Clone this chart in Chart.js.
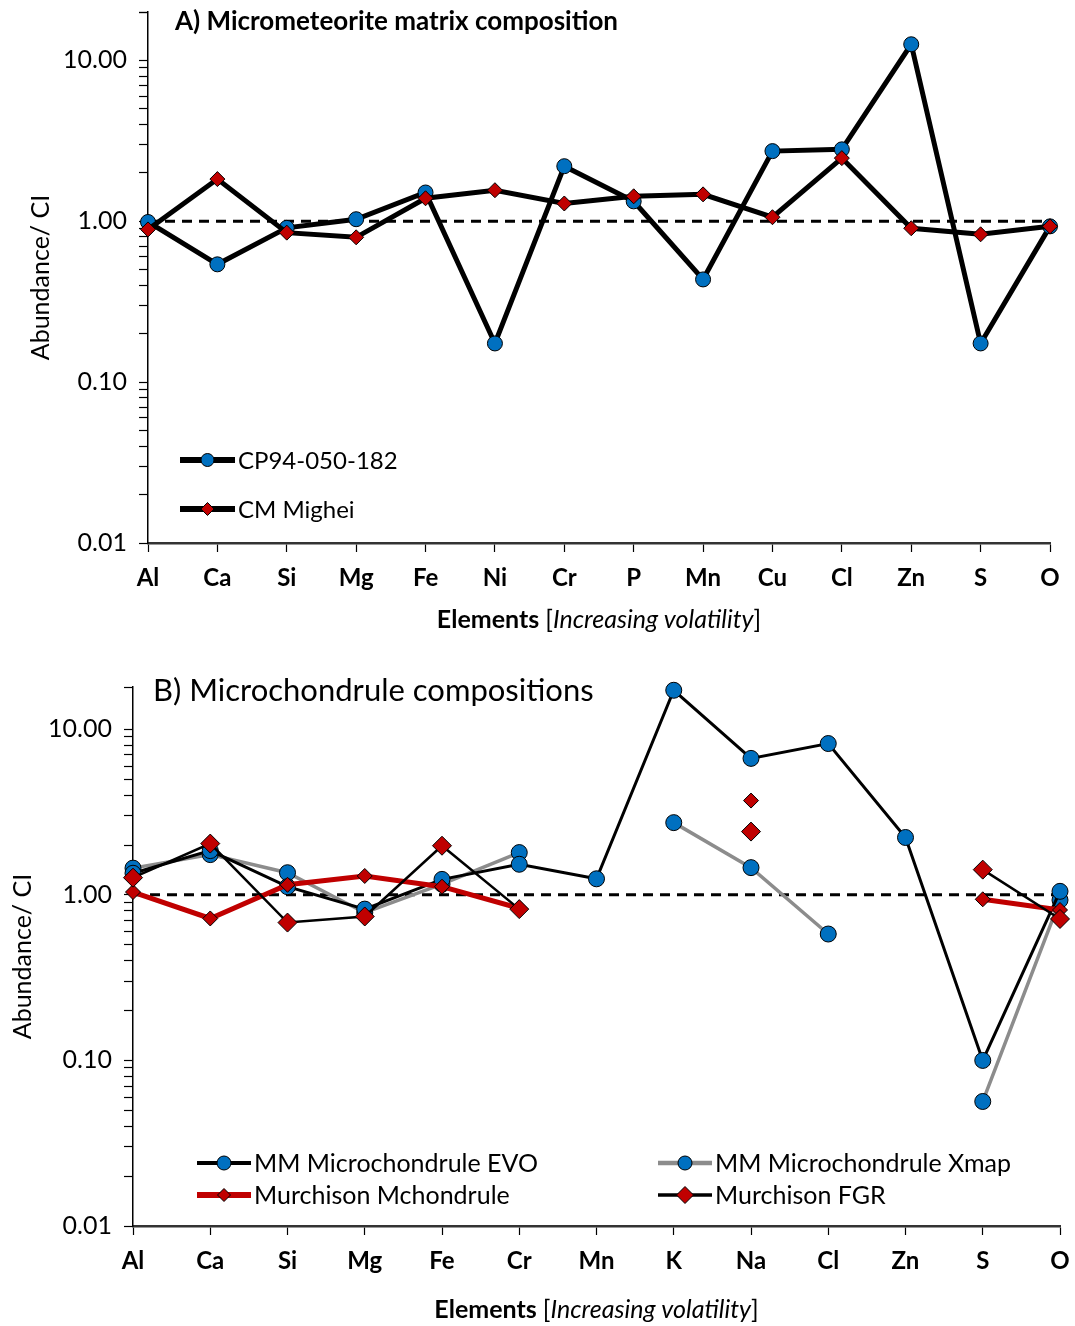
<!DOCTYPE html>
<html>
<head>
<meta charset="utf-8">
<script src="https://cdn.jsdelivr.net/npm/chart.js@4.4.1/dist/chart.umd.min.js"></script>
<style>
body { margin: 0; background: #fff; }
.box { position: relative; width: 1075px; }
</style>
</head>
<body>
<div class="box" style="height:645px"><canvas id="matrix"></canvas></div>
<div class="box" style="height:681px"><canvas id="chondrule"></canvas></div>
<script>
// A) matrix
var elementsA = ['Al','Ca','Si','Mg','Fe','Ni','Cr','P','Mn','Cu','Cl','Zn','S','O'];
var cp94 = [0.99, 0.54, 0.91, 1.03, 1.51, 0.174, 2.2, 1.33, 0.435, 2.73, 2.8, 12.6, 0.174, 0.93];
var mighei = [0.89, 1.83, 0.85, 0.795, 1.39, 1.56, 1.29, 1.43, 1.47, 1.06, 2.47, 0.905, 0.83, 0.93];

// B) microchondrules
var elementsB = ['Al','Ca','Si','Mg','Fe','Cr','Mn','K','Na','Cl','Zn','S','O'];
var evo = [1.35, 1.85, 1.12, 0.82, 1.24, 1.53, 1.25, 17.2, 6.67, 8.2, 2.22, 0.10, 1.05];
var xmap = [1.45, 1.75, 1.36, 0.78, 1.16, 1.80, null, 2.73, 1.46, 0.58, null, 0.0565, 0.93];
var mchondrule = [1.04, 0.72, 1.15, 1.30, 1.12, 0.83, null, null, 3.71, null, null, 0.94, 0.81];
var fgr = [1.27, 2.04, 0.68, 0.74, 1.98, 0.82, null, null, 2.41, null, null, 1.42, 0.715];

var majorTicks = [0.01, 0.1, 1, 10];
var majorLabels = ['0.01', '0.10', '1.00', '10.00'];
var chondriteLevel = 1;

var FONT = 'Lato';
var BLUE = '#0070c0', RED = '#c00000', GREY = '#8c8c8c';

var decor = {
  id: 'decor',
  beforeDatasetsDraw: function(chart, args, o) {
    var ctx = chart.ctx, a = chart.chartArea;
    var y = chart.scales.y.getPixelForValue(chondriteLevel);
    ctx.save();
    ctx.setLineDash([10, 7]);
    ctx.lineWidth = 3;
    ctx.strokeStyle = '#000';
    ctx.beginPath();
    ctx.moveTo(a.left, y);
    ctx.lineTo(a.right, y);
    ctx.stroke();
    ctx.restore();
  },
  afterDraw: function(chart, args, o) {
    var ctx = chart.ctx, a = chart.chartArea;
    ctx.save();
    ctx.fillStyle = '#000';
    ctx.textBaseline = 'middle';
    ctx.textAlign = 'left';
    // panel title
    ctx.font = o.titleFont;
    ctx.fillText(o.title, o.titleX, o.titleY);

    // legend
    o.legend.forEach(function(it) {
      var ds = chart.data.datasets[it.ds];
      ctx.lineWidth = ds.borderWidth + 1;
      ctx.strokeStyle = ds.borderColor;
      ctx.beginPath();
      ctx.moveTo(it.x, it.y);
      ctx.lineTo(it.x + it.len, it.y);
      ctx.stroke();
      ctx.fillStyle = ds.pointBackgroundColor;
      ctx.strokeStyle = '#000';
      ctx.lineWidth = 1;
      Chart.helpers.drawPoint(ctx, {pointStyle: ds.pointStyle, radius: ds.pointRadius - 1, rotation: 0, borderWidth: 1},
        it.x + it.len / 2, it.y);
      ctx.fillStyle = '#000';
      ctx.font = o.legendFont;
      ctx.fillText(ds.label, it.x + it.len + 3, it.y + 1);
    });

    // x axis title with mixed styles
    var parts = [['Elements ', 'bold '], ['[', ''], ['Increasing volatility', 'italic '], [']', '']];
    var size = '25px ';
    var total = 0;
    parts.forEach(function(p) { ctx.font = p[1] + size + FONT; total += ctx.measureText(p[0]).width; });
    var x = (a.left + a.right) / 2 - total / 2;
    parts.forEach(function(p) {
      ctx.font = p[1] + size + FONT;
      ctx.fillText(p[0], x, o.xTitleY);
      x += ctx.measureText(p[0]).width;
    });
    ctx.restore();
  }
};

function logTicks(scale) {
  var list = [];
  majorTicks.forEach(function(m) {
    for (var k = 1; k <= 9; k++) {
      var v = m * k;
      if (v <= scale.max + 1e-9) list.push({value: v});
    }
  });
  list.push({value: scale.max});
  scale.ticks = list;
}

function yScale(max, width, titlePad) {
  return {
    type: 'logarithmic',
    min: 0.01,
    max: max,
    afterBuildTicks: logTicks,
    afterFit: function(s) { s.width = width; s.paddingTop = 0; s.paddingBottom = 0; },
    border: {color: '#000', width: 1.5},
    grid: {drawOnChartArea: false, drawTicks: true, tickLength: 9, tickColor: '#000', tickWidth: 1.2},
    ticks: {
      autoSkip: false,
      padding: 12,
      color: '#000',
      font: {family: FONT, size: 25},
      callback: function(v) {
        var i = majorTicks.findIndex(function(m) { return Math.abs(m - v) < m * 1e-6; });
        return i >= 0 ? majorLabels[i] : '';
      }
    },
    title: {display: true, text: 'Abundance/ CI', color: '#000', font: {family: FONT, size: 25}, padding: titlePad}
  };
}

function xScale(labels, height) {
  return {
    type: 'category',
    labels: labels,
    offset: false,
    afterFit: function(s) { s.height = height; s.paddingLeft = 0; s.paddingRight = 0; },
    border: {color: '#333', width: 2.5},
    grid: {offset: false, drawOnChartArea: false, drawTicks: true, tickLength: 9, tickColor: '#000', tickWidth: 1.2},
    ticks: {autoSkip: false, maxRotation: 0, padding: 12, color: '#000', font: {family: FONT, size: 24, weight: 'bold'}}
  };
}

function series(label, data, line, width, point, fill, radius, order) {
  return {
    label: label, data: data, borderColor: line, borderWidth: width,
    pointStyle: point, pointRadius: radius, pointBackgroundColor: fill,
    pointBorderColor: '#000', pointBorderWidth: 1, tension: 0, clip: false, order: order
  };
}

window.onload = function() {
  new Chart(document.getElementById('matrix'), {
    type: 'line',
    data: {
      labels: elementsA,
      datasets: [
        series('CP94-050-182', cp94, '#000', 5, 'circle', BLUE, 7.5, 2),
        series('CM Mighei', mighei, '#000', 5, 'rectRot', RED, 7.5, 1)
      ]
    },
    options: {
      responsive: true,
      maintainAspectRatio: false,
      animation: false,
      layout: {padding: {left: 22, top: 12, right: 25, bottom: 0}},
      scales: {x: xScale(elementsA, 102), y: yScale(20, 126, 4)},
      plugins: {
        legend: {display: false},
        tooltip: {enabled: false},
        decor: {
          title: 'A) Micrometeorite matrix composition',
          titleFont: 'bold 26px ' + FONT, titleX: 175, titleY: 22,
          xTitleY: 620,
          legendFont: '24px ' + FONT,
          legend: [{ds: 0, x: 180, y: 460, len: 55}, {ds: 1, x: 180, y: 509, len: 55}]
        }
      }
    },
    plugins: [decor]
  });

  new Chart(document.getElementById('chondrule'), {
    type: 'line',
    data: {
      labels: elementsB,
      datasets: [
        series('MM Microchondrule EVO', evo, '#000', 3, 'circle', BLUE, 8, 2),
        series('MM Microchondrule Xmap', xmap, GREY, 3.5, 'circle', BLUE, 8, 3),
        series('Murchison Mchondrule', mchondrule, RED, 5, 'rectRot', RED, 7.5, 1),
        series('Murchison FGR', fgr, '#000', 2.5, 'rectRot', RED, 9.5, 0)
      ]
    },
    options: {
      responsive: true,
      maintainAspectRatio: false,
      animation: false,
      layout: {padding: {left: 4, top: 42, right: 15, bottom: 0}},
      scales: {x: xScale(elementsB, 100), y: yScale(18, 129, 4)},
      plugins: {
        legend: {display: false},
        tooltip: {enabled: false},
        decor: {
          title: 'B) Microchondrule compositions',
          titleFont: '31px ' + FONT, titleX: 153, titleY: 46,
          xTitleY: 665,
          legendFont: '25px ' + FONT,
          legend: [
            {ds: 0, x: 197, y: 518, len: 54}, {ds: 1, x: 658, y: 518, len: 54},
            {ds: 2, x: 197, y: 550, len: 54}, {ds: 3, x: 658, y: 550, len: 54}
          ]
        }
      }
    },
    plugins: [decor]
  });
};
</script>
</body>
</html>
